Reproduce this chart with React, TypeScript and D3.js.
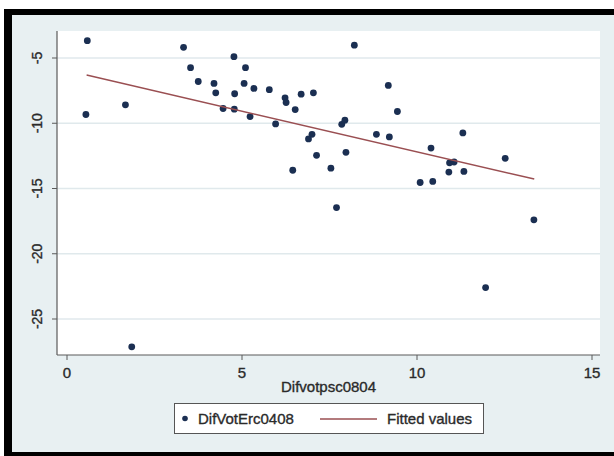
import React, { useEffect, useRef } from 'react';
import * as d3 from 'd3';

// Difvotpsc0804 (x) and DifVotErc0408 (y)
const difVotPsc = [0.58, 0.54, 1.67, 1.85, 3.33, 3.53, 3.75, 4.2, 4.25, 4.46, 4.77, 4.79, 4.78, 5.1, 5.06, 5.34, 5.23, 5.78, 5.96, 6.23, 6.26, 6.52, 6.69, 7.04, 6.45, 6.9, 7.0, 7.13, 8.21, 9.18, 9.44, 7.85, 7.94, 7.54, 7.97, 8.84, 9.21, 11.31, 10.4, 10.93, 11.06, 10.91, 11.34, 10.09, 10.45, 12.52, 7.7, 13.34, 11.96];
const difVotErc = [-3.67, -9.33, -8.59, -27.13, -4.18, -5.74, -6.8, -6.95, -7.67, -8.87, -4.9, -7.74, -8.92, -5.74, -6.95, -7.33, -9.49, -7.43, -10.05, -8.05, -8.41, -8.95, -7.77, -7.67, -13.6, -11.2, -10.85, -12.46, -4.02, -7.1, -9.1, -10.08, -9.77, -13.44, -12.23, -10.85, -11.05, -10.74, -11.9, -13.03, -12.97, -13.74, -13.69, -14.54, -14.46, -12.69, -16.46, -17.4, -22.59];

// fitted values at the ends of the x range
const fitX = [0.56, 13.35];
const fitY = [-6.31, -14.28];

const xTicks = [0, 5, 10, 15];
const yTicks = [-5, -10, -15, -20, -25];

const font = '"Liberation Sans", Arial, sans-serif';

const Scatter = () => {
  const ref = useRef(null);

  useEffect(() => {
    const svg = d3.select(ref.current);
    svg.selectAll('*').remove();

    const x = d3.scaleLinear().domain([0, 15]).range([67, 592]);
    const y = d3.scaleLinear().domain([-5, -25]).range([58, 319]);
    const left = 57, right = 600, top = 31, bottom = 355;

    // the text in the picture is a bit heavy, a thin stroke gets closer
    const label = sel => sel
      .style('font-family', font).attr('fill', '#2a2a2a')
      .attr('stroke', '#2a2a2a').attr('stroke-width', 0.35);

    // frame + background
    svg.append('rect').attr('width', 614).attr('height', 456).attr('fill', '#fff');
    svg.append('rect').attr('x', 4).attr('y', 9).attr('width', 610).attr('height', 447).attr('fill', '#000');
    svg.append('rect').attr('x', 12).attr('y', 15).attr('width', 602).attr('height', 437).attr('fill', '#e8f0f2');
    svg.append('rect').attr('x', left).attr('y', top).attr('width', right - left).attr('height', bottom - top).attr('fill', '#fff');

    // gridlines
    svg.append('g').selectAll('line').data(yTicks).enter().append('line')
      .attr('x1', left).attr('x2', right)
      .attr('y1', d => y(d)).attr('y2', d => y(d))
      .attr('stroke', '#e0e9ec').attr('stroke-width', 1.3);

    // axes
    svg.append('line').attr('x1', left).attr('x2', left).attr('y1', top).attr('y2', bottom)
      .attr('stroke', '#5a5a5a').attr('stroke-width', 1.2);
    svg.append('line').attr('x1', left).attr('x2', right).attr('y1', bottom).attr('y2', bottom)
      .attr('stroke', '#5a5a5a').attr('stroke-width', 1.2);

    const yt = svg.append('g').selectAll('g').data(yTicks).enter().append('g');
    yt.append('line').attr('x1', 52).attr('x2', left).attr('y1', d => y(d)).attr('y2', d => y(d))
      .attr('stroke', '#5a5a5a');
    yt.append('text')
      .attr('transform', d => `translate(42,${y(d)}) rotate(-90)`)
      .attr('text-anchor', 'middle')
      .style('font-size', '14px')
      .call(label)
      .text(d => d);

    const xt = svg.append('g').selectAll('g').data(xTicks).enter().append('g');
    xt.append('line').attr('x1', d => x(d)).attr('x2', d => x(d)).attr('y1', bottom).attr('y2', bottom + 5)
      .attr('stroke', '#5a5a5a');
    xt.append('text')
      .attr('x', d => x(d)).attr('y', 378)
      .attr('text-anchor', 'middle')
      .style('font-size', '15px')
      .call(label)
      .text(d => d);

    svg.append('text').attr('x', (left + right) / 2).attr('y', 392).attr('text-anchor', 'middle')
      .style('font-size', '15px').call(label)
      .text('Difvotpsc0804');

    // points
    svg.append('g').selectAll('circle').data(difVotPsc).enter().append('circle')
      .attr('cx', d => x(d)).attr('cy', (d, i) => y(difVotErc[i]))
      .attr('r', 3.4).attr('fill', '#1b2f52');

    // fitted line
    const line = d3.line().x(d => x(d[0])).y(d => y(d[1]));
    svg.append('path').datum(fitX.map((v, i) => [v, fitY[i]]))
      .attr('d', line).attr('fill', 'none').attr('stroke', '#9a4f52').attr('stroke-width', 1.5);

    // legend
    const lg = svg.append('g');
    lg.append('rect').attr('x', 174.5).attr('y', 403.5).attr('width', 309).attr('height', 30)
      .attr('fill', '#fff').attr('stroke', '#555');
    lg.append('circle').attr('cx', 185).attr('cy', 418.5).attr('r', 2.8).attr('fill', '#1b2f52');
    lg.append('text').attr('x', 198).attr('y', 424)
      .style('font-size', '15px').call(label)
      .text('DifVotErc0408');
    lg.append('line').attr('x1', 320).attr('x2', 377).attr('y1', 419).attr('y2', 419)
      .attr('stroke', '#9a4f52').attr('stroke-width', 1.5);
    lg.append('text').attr('x', 387).attr('y', 424)
      .style('font-size', '15px').call(label)
      .text('Fitted values');
  }, []);

  return <svg ref={ref} width={614} height={456} style={{ display: 'block' }} />;
};

export default function App() {
  return (
    <div style={{ position: 'fixed', left: 0, top: 0 }}>
      <Scatter />
    </div>
  );
}
